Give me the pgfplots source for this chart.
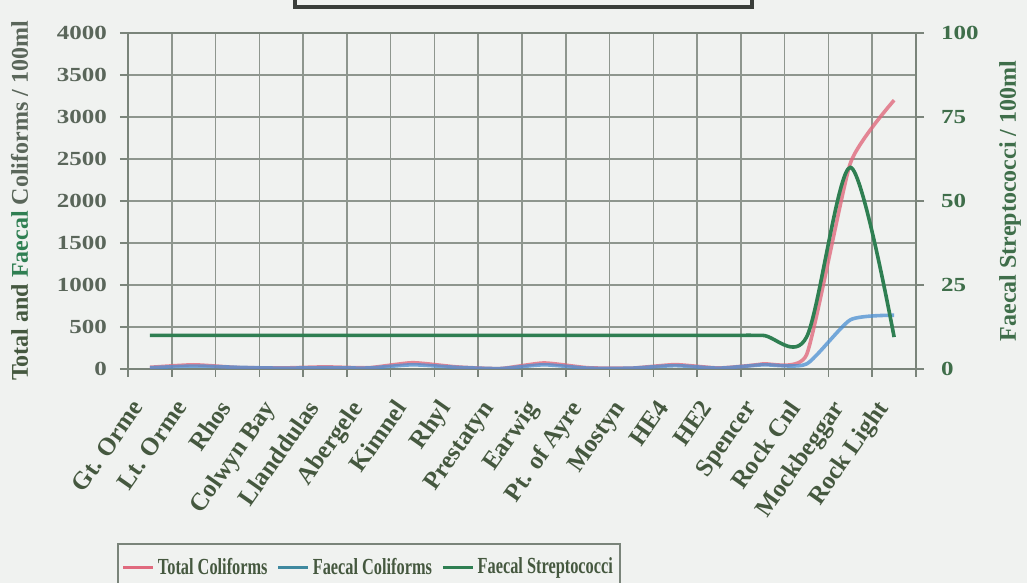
\documentclass[border=0pt]{standalone}
\usepackage{fontspec}
\setmainfont{Liberation Serif}
\newfontfamily\tickfont[FakeStretch=1.25]{Liberation Serif}
\newfontfamily\legfont[FakeStretch=0.71]{Liberation Serif}
\usepackage{pgfplots}
\pgfplotsset{compat=1.18}
\definecolor{bgc}{HTML}{F0F2F0}
\definecolor{gridc}{HTML}{8E968E}
\definecolor{axc}{HTML}{7A847A}
\definecolor{totc}{HTML}{E06A7E}
\definecolor{faecc}{HTML}{4A8FD2}
\definecolor{strepc}{HTML}{2F7F52}
\definecolor{txtc}{HTML}{45583F}
\definecolor{tickc}{HTML}{5A665A}
\definecolor{greenlab}{HTML}{3F6E4A}
\definecolor{titlec}{HTML}{3A3E3A}

\pgfplotstableread{
x tot fae strep
0  20   15   10
1  50   35   10
2  18   20   10
3  12   10   10
4  25   15   10
5  15   12   10
6  75   50   10
7  25   20   10
8  5    5    10
9  72   50   10
10 15   10   10
11 10   10   10
12 52   40   10
13 12   10   10
14 60   50   10
15 170  60   9.5
16 2450 585  60
17 3200 640  9.5
}\datatab

\begin{document}
\begin{tikzpicture}
\useasboundingbox[fill=bgc] (-64pt,-107pt) rectangle (449.5pt,184.5pt);
\begin{scope}
\clip (-64pt,-107pt) rectangle (449.5pt,184.5pt);
\draw[line width=1.6pt, draw=titlec] (83.5pt,181pt) rectangle (312pt,200pt);
\end{scope}

\begin{axis}[
  at={(0,0)}, anchor=south west,
  scale only axis, width=394pt, height=168pt,
  xmin=-0.5, xmax=17.5, ymin=0, ymax=4000,
  axis line style={draw=axc, line width=0.8pt},
  tick align=outside, xtick pos=bottom, ytick pos=left,
  xtick={0,...,17},
  xticklabels={Gt. Orme, Lt. Orme, Rhos, Colwyn Bay, Llanddulas, Abergele, Kimnel, Rhyl, Prestatyn, Earwig, Pt. of Ayre, Mostyn, HE4, HE2, Spencer, Rock Cnl, Mockbeggar, Rock Light},
  major x tick style={draw=none},
  minor xtick={-0.5,0.5,...,17.5},
  xminorgrids=true,
  minor x grid style={draw=gridc, line width=0.8pt},
  minor x tick style={draw=axc, line width=0.8pt},
  minor tick length=4pt,
  major tick length=4pt,
  ytick={0,500,...,4000},
  yticklabels={0,500,1000,1500,2000,2500,3000,3500,4000},
  ymajorgrids=true,
  major y grid style={draw=gridc, line width=0.8pt},
  major y tick style={draw=axc, line width=0.8pt},
  x tick label style={font=\bfseries\fontsize{12.5}{14}\selectfont, text=txtc, xshift=-10pt, yshift=-9pt, rotate=55, anchor=north east, inner sep=1pt},
  y tick label style={font=\tickfont\bfseries\fontsize{10}{12}\selectfont, text=tickc, xshift=-3pt},
  ylabel={\textcolor{txtc}{Total and} \textcolor{strepc}{Faecal} \textcolor{tickc}{Coliforms / 100ml}},
  ylabel style={font=\bfseries\fontsize{12}{14}\selectfont, at={(axis description cs:-0.1377,0.5)}, anchor=center},
]
\addplot[draw=totc, line width=1.8pt, smooth, tension=0.3, opacity=0.8, no marks] table[x=x, y=tot] {\datatab};
\addplot[draw=faecc, line width=1.8pt, smooth, tension=0.35, opacity=0.75, no marks] table[x=x, y=fae] {\datatab};
\end{axis}

\begin{axis}[
  at={(0,0)}, anchor=south west,
  scale only axis, width=394pt, height=168pt,
  xmin=-0.5, xmax=17.5, ymin=0, ymax=100,
  axis y line*=right, axis x line=none,
  axis line style={draw=axc, line width=0.8pt},
  tick align=outside,
  ytick={0,25,50,75,100},
  yticklabels={0,25,50,75,100},
  major tick length=4pt,
  major y tick style={draw=axc, line width=0.8pt},
  y tick label style={font=\tickfont\bfseries\fontsize{10}{12}\selectfont, text=greenlab, xshift=5pt},
  ylabel={Faecal Streptococci / 100ml},
  ylabel style={font=\bfseries\fontsize{12}{14}\selectfont, text=greenlab, at={(axis description cs:1.1193,0.5)}, anchor=center, rotate=0},
  legend columns=3,
  legend style={at={(-0.014,-0.518)}, anchor=north west, draw=axc, line width=0.8pt, fill=bgc,
    font=\legfont\bfseries\fontsize{11.5}{12}\selectfont, text=txtc, inner xsep=2pt, inner ysep=5pt,
    nodes={inner xsep=1.5pt},
    /tikz/every even column/.append style={column sep=3pt}},
  legend image code/.code={\draw[#1] (0pt,0pt) -- (15pt,0pt);},
]
\addlegendimage{draw=totc, line width=1.6pt}
\addlegendentry{Total Coliforms}
\addlegendimage{draw=faecc!60!strepc, line width=1.6pt}
\addlegendentry{Faecal Coliforms}
\addplot[draw=strepc, line width=1.8pt, smooth, no marks] table[x=x, y=strep] {\datatab};
\addlegendentry{Faecal Streptococci}
\end{axis}
\end{tikzpicture}
\end{document}
